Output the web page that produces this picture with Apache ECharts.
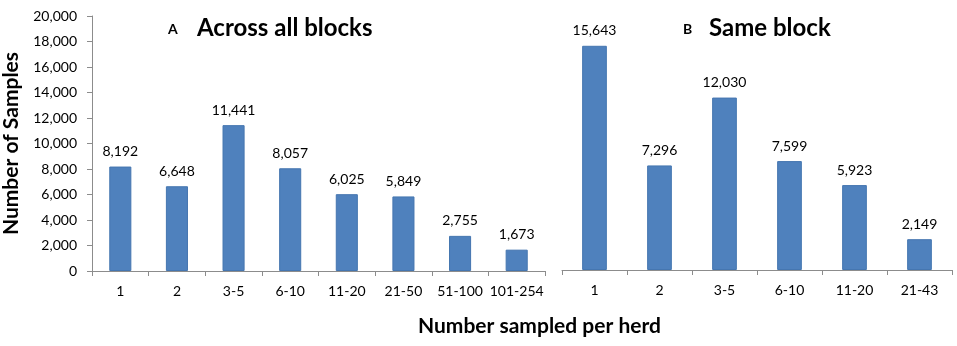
<!DOCTYPE html>
<html>
<head>
<meta charset="utf-8">
<script src="https://cdn.jsdelivr.net/npm/echarts@6/dist/echarts.min.js"></script>
<style>
  html, body { margin: 0; padding: 0; background: #fff; }
  #chart { width: 957px; height: 346px; }
</style>
</head>
<body>
<div id="chart"></div>
<script>
const catsA = ['1', '2', '3-5', '6-10', '11-20', '21-50', '51-100', '101-254']
const valsA = [8192, 6648, 11441, 8057, 6025, 5849, 2755, 1673]
const catsB = ['1', '2', '3-5', '6-10', '11-20', '21-43']
const valsB = [15643, 7296, 12030, 7599, 5923, 2149]
const yTicksA = { min: 0, max: 20000, interval: 2000 }

const barColor = '#4f81bd'
const axisColor = '#8c8c8c'
const font = 'Lato'

// thousands separator
function commas (v) {
  return String(v).replace(/\B(?=(\d{3})+(?!\d))/g, ',')
}

const chart = echarts.init(document.getElementById('chart'))

function catAxis (idx, data) {
  return {
    type: 'category',
    gridIndex: idx,
    data: data,
    axisLine: { lineStyle: { color: axisColor, width: 1 } },
    axisTick: { show: true, length: 5, lineStyle: { color: axisColor } },
    axisLabel: { color: '#000', fontSize: 14, fontFamily: font, margin: 13, interval: 0 },
    splitLine: { show: false }
  }
}

const barLabel = {
  show: true,
  position: 'top',
  distance: 8,
  color: '#000',
  fontSize: 14,
  fontFamily: font,
  formatter: p => commas(p.value)
}

const bold = size => ({ fontSize: size, fontWeight: 'bold', color: '#000', fontFamily: font })

const option = {
  animation: false,
  textStyle: { fontFamily: font },
  grid: [
    { left: 91, right: 412, top: 16, bottom: 75 },
    { left: 562, right: 5, top: 12, bottom: 76 }
  ],
  title: [
    { text: 'A', left: 168, top: 22, padding: 0, textStyle: bold(14) },
    { text: 'Across all blocks', left: 197, top: 16, padding: 0, textStyle: bold(24) },
    { text: 'B', left: 683, top: 22, padding: 0, textStyle: bold(14) },
    { text: 'Same block', left: 709, top: 16, padding: 0, textStyle: bold(24) },
    { text: 'Number sampled per herd', left: 418, top: 316, padding: 0, textStyle: bold(21) }
  ],
  xAxis: [
    catAxis(0, catsA),
    catAxis(1, catsB)
  ],
  yAxis: [
    {
      type: 'value',
      gridIndex: 0,
      min: yTicksA.min,
      max: yTicksA.max,
      interval: yTicksA.interval,
      name: 'Number of Samples',
      nameLocation: 'middle',
      nameRotate: 90,
      nameGap: 70,
      nameTextStyle: bold(21),
      axisLine: { show: true, lineStyle: { color: axisColor } },
      axisTick: { show: true, length: 5, lineStyle: { color: axisColor } },
      axisLabel: { color: '#000', fontSize: 14, fontFamily: font, margin: 15, formatter: v => commas(v) },
      splitLine: { show: false }
    },
    {
      // panel B has its own, hidden scale
      type: 'value',
      gridIndex: 1,
      min: 0,
      max: 18000,
      show: false,
      splitLine: { show: false }
    }
  ],
  series: [
    {
      type: 'bar',
      xAxisIndex: 0,
      yAxisIndex: 0,
      data: valsA,
      barWidth: '39%',
      itemStyle: { color: barColor, borderColor: '#4576b0', borderWidth: 1 },
      label: barLabel
    },
    {
      type: 'bar',
      xAxisIndex: 1,
      yAxisIndex: 1,
      data: valsB,
      barWidth: '38%',
      itemStyle: { color: barColor, borderColor: '#4576b0', borderWidth: 1 },
      label: barLabel
    }
  ]
}

chart.setOption(option)
</script>
</body>
</html>
